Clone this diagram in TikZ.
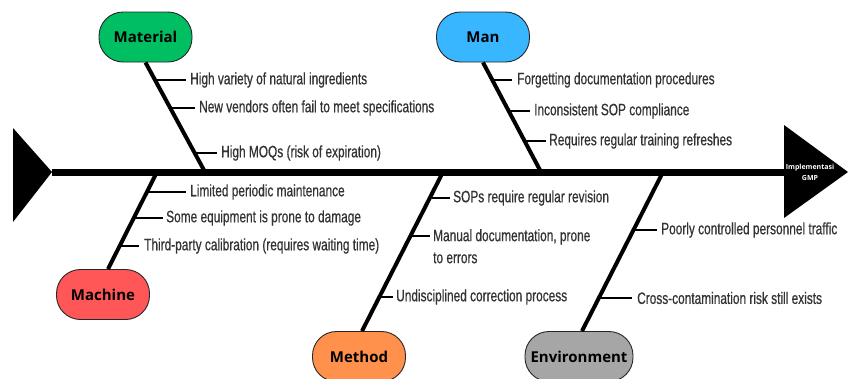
\documentclass[tikz,border=0pt]{standalone}
\usepackage{fontspec}
\setmainfont{Liberation Sans}
\newfontfamily\condfont[FakeStretch=0.72,FakeBold=0.6]{Liberation Sans}
\newfontfamily\boxfont{Open Sans}
\usetikzlibrary{calc}
\definecolor{matgreen}{HTML}{00BF63}
\definecolor{manblue}{HTML}{38B6FF}
\definecolor{machred}{HTML}{FF5757}
\definecolor{methorange}{HTML}{FF914D}
\definecolor{envgray}{HTML}{A6A6A6}
\definecolor{txtgray}{HTML}{333333}
\tikzset{
  catbox/.style={draw=black!85, line width=0.9pt, rounded corners=24pt,
    minimum width=93pt, minimum height=50pt, inner sep=0pt,
    font=\boxfont\bfseries\fontsize{15}{18}\selectfont},
  bone/.style={line width=4pt},
  twig/.style={line width=2pt},
  cause/.style={anchor=west, inner sep=0pt, text=txtgray,
    font=\condfont\fontsize{16.5}{22}\selectfont, align=left},
}
\begin{document}
\begin{tikzpicture}[x=1pt,y=-1pt]
\useasboundingbox (0,0) rectangle (848,378);
% spine, tail and head
\coordinate (tailtip) at (52,172);
\coordinate (headbase) at (786,172);
\fill (13,128) -- (tailtip) -- (13,222) -- cycle;
\draw[line width=7pt] (tailtip) -- (headbase);
\fill (784,125) -- (848,172) -- (784,218) -- cycle;
\node[text=white, align=center, inner sep=0pt, font=\boxfont\bfseries\fontsize{7}{11}\selectfont] (effect) at (810,172) {Implementasi\\GMP};

% category boxes
\node[catbox, fill=matgreen] (material) at (145.5,37) {Material};
\node[catbox, fill=manblue] (man) at (483,37) {Man};
\node[catbox, fill=machred] (machine) at (103,294.5) {Machine};
\node[catbox, fill=methorange] (method) at (359,356.5) {Method};
\node[catbox, fill=envgray, minimum width=108pt] (environment) at (579,356.5) {Environment};

% spine junctions
\coordinate (jmat) at (205,172);
\coordinate (jman) at (541,172);
\coordinate (jmach) at (157,172);
\coordinate (jmeth) at (443,172);
\coordinate (jenv) at (663,172);

% main bones
\draw[bone] (material.south) -- (jmat);
\draw[bone] (man.south) -- (jman);
\draw[bone] (machine.north) ++(5,0) coordinate (mbot) (mbot) -- (jmach);
\draw[bone] (method.north) ++(3,0) coordinate (mebot) (mebot) -- (jmeth);
\draw[bone] (environment.north) ++(3,0) coordinate (ebot) (ebot) -- (jenv);

% Material causes
\node[cause] (c11) at (190,80) {High variety of natural ingredients};
\node[cause] (c12) at (199,108) {New vendors often fail to meet specifications};
\node[cause] (c13) at (221,153) {High MOQs (risk of expiration)};
\coordinate (b11) at (155,80);
\coordinate (b12) at (170,108);
\coordinate (b13) at (195,153);
\draw[twig] (b11) -- ($(c11.west)+(-4,0)$);
\draw[twig] (b12) -- ($(c12.west)+(-4,0)$);
\draw[twig] (b13) -- ($(c13.west)+(-4,0)$);

% Man causes
\node[cause] (c21) at (517,80) {Forgetting documentation procedures};
\node[cause] (c22) at (534,111) {Inconsistent SOP compliance};
\node[cause] (c23) at (549,141) {Requires regular training refreshes};
\coordinate (b21) at (492,80);
\coordinate (b22) at (509,111);
\coordinate (b23) at (525,141);
\draw[twig] (b21) -- ($(c21.west)+(-5,0)$);
\draw[twig] (b22) -- ($(c22.west)+(-4,0)$);
\draw[twig] (b23) -- ($(c23.west)+(-3,0)$);

% Machine causes
\node[cause] (c31) at (190,192) {Limited periodic maintenance};
\node[cause] (c32) at (166,218) {Some equipment is prone to damage};
\node[cause] (c33) at (144,246) {Third-party calibration (requires waiting time)};
\coordinate (b31) at (149,192);
\coordinate (b32) at (135,218);
\coordinate (b33) at (121,246);
\draw[twig] (b31) -- ($(c31.west)+(-4,0)$);
\draw[twig] (b32) -- ($(c32.west)+(-3,0)$);
\draw[twig] (b33) -- ($(c33.west)+(-5,0)$);

% Method causes
\node[cause, anchor=north west] (c42) at (433,229) {Manual documentation, prone\\to errors};
\node[cause] (c41) at (453,198) {SOPs require regular revision};
\node[cause] (c43) at (396,297) {Undisciplined correction process};
\coordinate (b41) at (432,198);
\coordinate (b42) at (412,236);
\coordinate (b43) at (380,297);
\coordinate (e42) at (430,236);
\draw[twig] (b41) -- ($(c41.west)+(-3,0)$);
\draw[twig] (b42) -- (e42);
\draw[twig] (b43) -- ($(c43.west)+(-3,0)$);

% Environment causes
\node[cause] (c51) at (661,230) {Poorly controlled personnel traffic};
\node[cause] (c52) at (637,298) {Cross-contamination risk still exists};
\coordinate (b51) at (635,230);
\coordinate (b52) at (600,298);
\draw[twig] (b51) -- ($(c51.west)+(-4,0)$);
\draw[twig] (b52) -- ($(c52.west)+(-5,0)$);
\end{tikzpicture}
\end{document}
